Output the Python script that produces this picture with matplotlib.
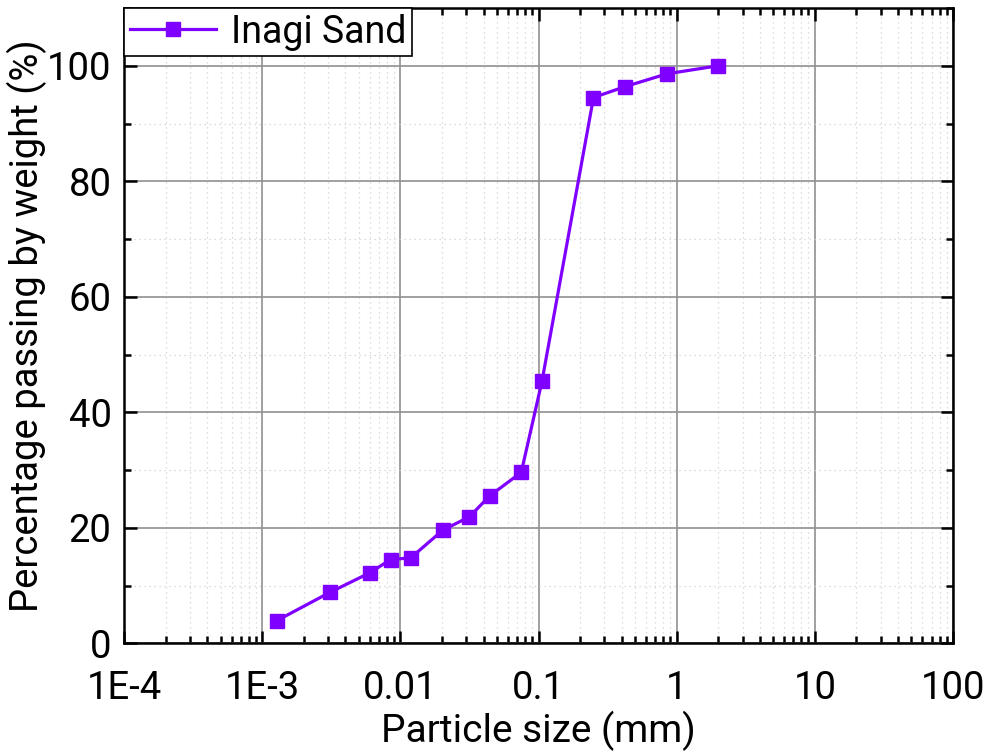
import numpy as np
import matplotlib
matplotlib.use("Agg")
import matplotlib.pyplot as plt
from matplotlib.ticker import MultipleLocator, LogLocator, NullFormatter

plt.rcParams['font.family'] = ['Roboto', 'DejaVu Sans']

# grain size distribution
size_mm = [0.00127, 0.00308, 0.0060, 0.0085, 0.0119, 0.0203, 0.0316, 0.0442,
           0.075, 0.106, 0.25, 0.425, 0.85, 2.0]
passing = [3.9, 8.8, 12.2, 14.5, 14.8, 19.6, 21.9, 25.5, 29.6, 45.4, 94.5,
           96.4, 98.6, 100.0]

xtick_vals = [1e-4, 1e-3, 1e-2, 1e-1, 1, 10, 100]
xtick_labels = ["1E-4", "1E-3", "0.01", "0.1", "1", "10", "100"]
ytick_vals = [0, 20, 40, 60, 80, 100]

fig = plt.figure(figsize=(9.9, 7.54), dpi=100)
ax = fig.add_axes([0.1253, 0.1468, 0.8373, 0.8426])

ax.plot(size_mm, passing, color='#7f00ff', lw=2.3, marker='s', ms=10,
        label='Inagi Sand', zorder=3)

ax.set_xscale('log')
ax.set_xlim(1e-4, 100)
ax.set_ylim(0, 110)
ax.set_xticks(xtick_vals)
ax.set_xticklabels(xtick_labels)
ax.xaxis.set_minor_locator(LogLocator(base=10, subs=np.arange(2, 10)))
ax.xaxis.set_minor_formatter(NullFormatter())
ax.set_yticks(ytick_vals)
ax.yaxis.set_minor_locator(MultipleLocator(10))

ax.grid(which='major', color='#909090', lw=1.2, ls='-')
ax.grid(which='minor', color='#d0d0d0', lw=0.9, ls=(0, (1, 3)))
ax.set_axisbelow(True)

ax.tick_params(which='both', direction='in', top=True, right=True,
               labelsize=27.5, width=1.8)
ax.tick_params(axis='x', pad=19)
ax.tick_params(axis='y', pad=9)
ax.tick_params(which='major', length=9)
ax.tick_params(which='minor', length=5)
for s in ax.spines.values():
    s.set_linewidth(1.8)

ax.set_xlabel('Particle size (mm)', fontsize=28, labelpad=3)
ax.set_ylabel('Percentage passing by weight (%)', fontsize=27.5, labelpad=0)

leg = ax.legend(loc='upper left', fontsize=27, fancybox=False, framealpha=1,
                edgecolor='black', borderaxespad=0, handlelength=2.3,
                borderpad=0.15, handletextpad=0.4)
leg.get_frame().set_linewidth(1.2)

fig.savefig('out.png', dpi=100)
